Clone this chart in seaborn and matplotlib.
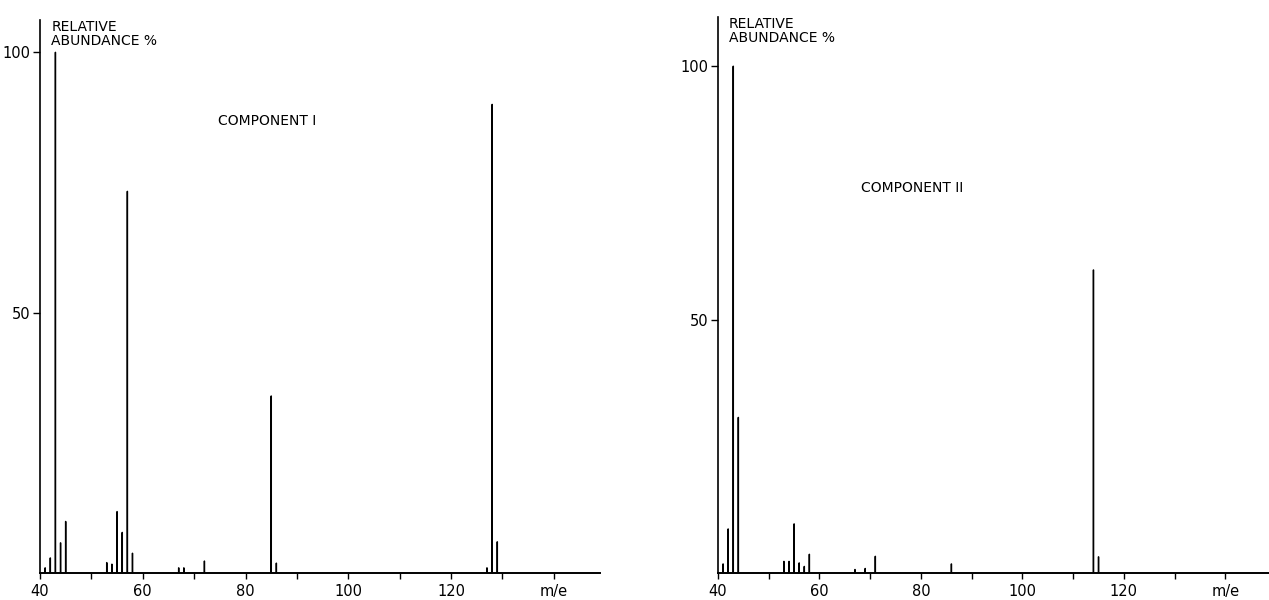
import matplotlib
matplotlib.use("Agg")
import matplotlib.pyplot as plt
import seaborn as sns
import pandas as pd

# Component I spectrum (m/e, relative abundance %)
mz_1 = [41, 42, 43, 44, 45, 53, 54, 55, 56, 57, 58, 67, 68, 72, 85, 86, 127, 128, 129]
ab_1 = [1.0, 2.9, 100, 5.8, 9.9, 2.0, 1.7, 11.8, 7.8, 73.3, 3.8, 1.0, 1.0, 2.3, 34.0, 1.9, 1.0, 90.0, 6.0]

# Component II spectrum
mz_2 = [41, 42, 43, 44, 53, 54, 55, 56, 57, 58, 67, 69, 71, 86, 114, 115]
ab_2 = [1.8, 8.7, 100, 30.7, 2.3, 2.3, 9.7, 2.0, 1.3, 3.7, 0.7, 0.9, 3.3, 1.8, 59.8, 3.2]

x_ticks = [40, 50, 60, 70, 80, 90, 100, 110, 120, 130, 140]
x_labels = ["40", "", "60", "", "80", "", "100", "", "120", "", "m/e"]
y_ticks = [50, 100]
y_labels = ["50", "100"]
titles = ["COMPONENT I", "COMPONENT II"]
ylabel_text = "RELATIVE\nABUNDANCE %"

sns.set_style("ticks")
plt.rcParams["font.family"] = ["DejaVu Sans"]
plt.rcParams["text.color"] = "black"
plt.rcParams["xtick.color"] = "black"
plt.rcParams["ytick.color"] = "black"
plt.rcParams["axes.edgecolor"] = "black"

fig = plt.figure(figsize=(12.69, 6.0), dpi=100)
W, H = 1269.0, 600.0
ax1 = fig.add_axes([40 / W, 27 / H, (600 - 40) / W, (573 - 20) / H])
ax2 = fig.add_axes([718 / W, 27 / H, (1269 - 718) / W, (573 - 17) / H])

specs = [
    (ax1, mz_1, ab_1, (40, 149), 106.2, (74.6, 86.8)),
    (ax2, mz_2, ab_2, (40, 148.6), 109.7, (68.2, 76.0)),
]

for i, (ax, mz, ab, xlim, ytop, tpos) in enumerate(specs):
    df = pd.DataFrame({"mz": mz, "ab": ab})
    sns.histplot(data=df, x="mz", weights="ab", discrete=True, shrink=0.05,
                 color="black", edgecolor="black", alpha=1.0, linewidth=1.0, ax=ax)
    for p in ax.patches:
        p.set_snap(False)
    ax.set_xlim(*xlim)
    ax.set_ylim(0, ytop)
    ax.set_xticks(x_ticks)
    ax.set_xticklabels(x_labels, fontsize=10.5)
    ax.set_yticks(y_ticks)
    ax.set_yticklabels(y_labels, fontsize=10.5)
    ax.tick_params(axis="x", direction="out", length=4, width=1, pad=4)
    ax.tick_params(axis="y", direction="out", length=5, width=1, pad=2)
    for s in ["top", "right"]:
        ax.spines[s].set_visible(False)
    ax.spines["left"].set_linewidth(1.2)
    ax.spines["bottom"].set_linewidth(1.4)
    ax.set_xlabel("")
    ax.set_ylabel("")
    ax.patch.set_alpha(0)
    ax.text(tpos[0], tpos[1], titles[i], fontsize=10, va="center", ha="left")
    ax.text(0.02, 1.0, ylabel_text, transform=ax.transAxes, fontsize=10,
            va="top", ha="left", linespacing=1.0)

fig.savefig("out.png", dpi=100, facecolor="white")
